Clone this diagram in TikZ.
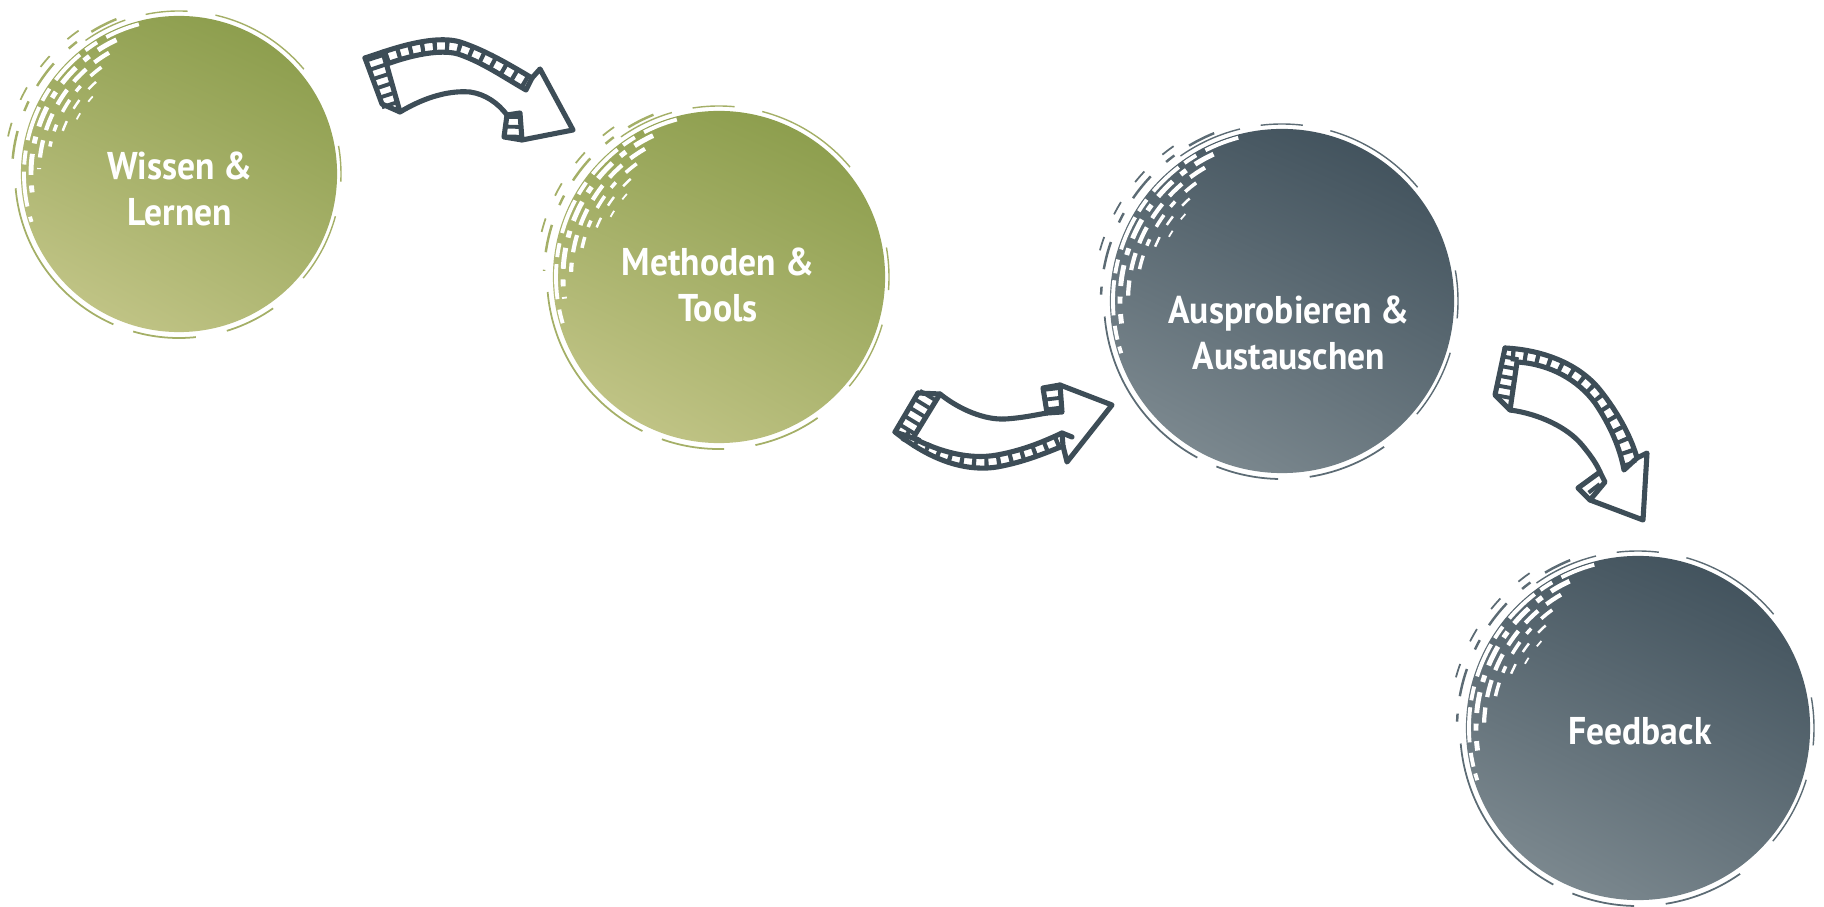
\documentclass[tikz,border=0pt]{standalone}
\usepackage{fontspec}
\setmainfont{PT Sans}[FakeStretch=0.92]
\usetikzlibrary{shadings}
\definecolor{arrowc}{HTML}{3D4D57}
\definecolor{gdark}{HTML}{869946}
\definecolor{glight}{HTML}{C9CA8F}
\colorlet{gul}{gdark!72!glight}
\colorlet{glr}{gdark!38!glight}
\colorlet{gmid}{gdark!55!glight}
\definecolor{sdark}{HTML}{3B4C57}
\definecolor{slight}{HTML}{859197}
\colorlet{sul}{sdark!72!slight}
\colorlet{slr}{sdark!38!slight}
\colorlet{smid}{sdark!55!slight}
\tikzset{
  arrowline/.style={draw=arrowc, line width=1.45pt, line join=round, line cap=round},
  hatchstrip/.style={draw=arrowc, line width=#1, dash pattern=on 1.2pt off 2.3pt},
  hatchband/.style={draw=arrowc, line width=#1, dash pattern=on 1.1pt off 1.7pt},
  disctext/.style={text=white, font=\fontsize{11}{12.9}\selectfont\bfseries, align=center, inner sep=0pt},
  greendisc/.style={circle, inner sep=0pt, shade, upper right=gdark, lower left=glight, upper left=gul, lower right=glr},
  slatedisc/.style={circle, inner sep=0pt, shade, upper right=sdark, lower left=slight, upper left=sul, lower right=slr},
}
% brush effects: #1 node, #2 radius (px), #3 colour
\newcommand\brushfx[3]{%
  \begin{scope}[shift={(#1)}]
    % thin outer ring fragments
    \draw[#3, line width=0.5pt, dash pattern=on 50pt off 6pt on 18pt off 9pt]
      ({-185}:{#2+6}) arc[start angle=-185, end angle=-305, radius={#2+6}];
    \draw[#3, line width=0.4pt, dash pattern=on 30pt off 8pt on 12pt off 6pt]
      ({-40}:{#2+5}) arc[start angle=-40, end angle=-125, radius={#2+5}];
    \draw[#3, line width=0.4pt, dash pattern=on 20pt off 10pt]
      ({-320}:{#2+4}) arc[start angle=-320, end angle=-370, radius={#2+4}];
    \draw[#3, line width=0.7pt, dash pattern=on 8pt off 5pt on 3pt off 6pt]
      ({-112}:{#2+9}) arc[start angle=-112, end angle=-178, radius={#2+9}];
    \draw[#3, line width=0.5pt, dash pattern=on 4pt off 7pt]
      ({-125}:{#2+17}) arc[start angle=-125, end angle=-168, radius={#2+17}];
    % white streaks in the upper left
    \draw[white, line width=1.1pt, dash pattern=on 10pt off 3pt on 4pt off 2pt]
      ({-105}:{#2-3}) arc[start angle=-105, end angle=-198, radius={#2-3}];
    \draw[white, line width=1.4pt, dash pattern=on 6pt off 3pt on 2pt off 3pt]
      ({-115}:{#2-10}) arc[start angle=-115, end angle=-188, radius={#2-10}];
    \draw[white, line width=1.2pt, dash pattern=on 5pt off 3pt]
      ({-120}:{#2-18}) arc[start angle=-120, end angle=-178, radius={#2-18}];
    \draw[white, line width=1pt, dash pattern=on 4pt off 4pt on 2pt off 3pt]
      ({-126}:{#2-26}) arc[start angle=-126, end angle=-168, radius={#2-26}];
    \draw[white, line width=0.7pt, dash pattern=on 3pt off 4pt]
      ({-132}:{#2-34}) arc[start angle=-132, end angle=-160, radius={#2-34}];
    \draw[white, line width=0.5pt, dash pattern=on 2pt off 4pt]
      ({-138}:{#2-42}) arc[start angle=-138, end angle=-153, radius={#2-42}];
  \end{scope}}
\begin{document}
\begin{tikzpicture}[x=0.01cm,y=-0.01cm]
\useasboundingbox (0,0) rectangle (1824,907);

% ---------- discs ----------
\node[greendisc, minimum size=3.16cm] (c1) at (179,174) {};
\node[greendisc, minimum size=3.32cm] (c2) at (719,277) {};
\node[slatedisc, minimum size=3.44cm] (c3) at (1282,301) {};
\node[slatedisc, minimum size=3.44cm] (c4) at (1638,728) {};
\brushfx{c1}{158}{gmid}
\brushfx{c2}{166}{gmid}
\brushfx{c3}{172}{smid}
\brushfx{c4}{172}{smid}

\node[disctext] (t1) at (180,189) {Wissen \&\\Lernen};
\node[disctext] (t2) at (718,285) {Methoden \&\\Tools};
\node[disctext] (t3) at (1289,333) {Ausprobieren \&\\Austauschen};
\node[disctext] (t4) at (1640,731) {Feedback};

% ---------- arrow 1 ----------
\draw[hatchband=4.8pt] (374,56) -- (391,108);
\draw[hatchstrip=3.4pt] (385,58) .. controls (411,49) and (440,42.5) .. (459,48)
      .. controls (483.5,56) and (507.5,71.5) .. (529,84);
\draw[hatchband=4.2pt] (513.5,115) -- (513,139);
\draw[arrowline] (365,58) -- (383,52) .. controls (410,43) and (440,36) .. (460,42)
      .. controls (485,50) and (510,65) .. (532,78) -- (540,69) -- (573,130) -- (522,140);
\draw[arrowline] (387,64) .. controls (412,55) and (440,49) .. (458,54)
      .. controls (482,62) and (505,78) .. (526,90) -- (532,78);
\draw[arrowline] (365,58) -- (382,104) -- (400,112) -- (383,52);
\draw[arrowline] (400,112) .. controls (420,100) and (445,90) .. (470,92)
      .. controls (485,94) and (498,103) .. (507,115);
\draw[arrowline] (507,115) -- (520,113) -- (522,140) -- (504,137) -- cycle;

% ---------- arrow 2 ----------
\draw[hatchband=5.4pt] (929,394) -- (904,435);
\draw[hatchstrip=3.4pt] (904,435) .. controls (935,456) and (967.5,466) .. (997,461)
      .. controls (1025,456) and (1047.5,446) .. (1062.5,439.5);
\draw[hatchband=4.4pt] (1051.5,387) -- (1054.5,412.5);
\draw[arrowline] (918,393) -- (940,394) .. controls (960,410) and (985,420) .. (1005,419)
      .. controls (1022,418) and (1035,415) .. (1047,413);
\draw[arrowline] (1047,413) -- (1043,388) -- (1060,385) -- (1062,412) -- cycle;
\draw[arrowline] (1060,385) -- (1112,405) -- (1067,462) -- (1063,446);
\draw[arrowline] (918,393) -- (895,432) -- (913,438) -- (940,394);
\draw[arrowline] (895,432) .. controls (930,460) and (965,472) .. (997,467)
      .. controls (1025,462) and (1048,452) .. (1063,446) -- (1062,433)
      .. controls (1047,440) and (1025,450) .. (997,455) .. controls (970,460) and (940,452) .. (913,438);
\draw[arrowline] (1062,433) -- (1072,437);

% ---------- arrow 3 ----------
\draw[hatchband=4.6pt] (1511,356) -- (1502.5,402.5);
\draw[hatchstrip=3.6pt] (1511,355) .. controls (1547.5,357) and (1579,372.5) .. (1597.5,396.5)
      .. controls (1615,420) and (1626,444) .. (1630.5,464);
\draw[hatchband=4pt] (1587,479) -- (1597,492);
\draw[arrowline] (1505,348) .. controls (1545,350) and (1580,365) .. (1600,390)
      .. controls (1620,415) and (1632,440) .. (1637,458) -- (1647,453) -- (1643,520) -- (1590,500);
\draw[arrowline] (1517,362) .. controls (1550,364) and (1578,380) .. (1595,403)
      .. controls (1610,425) and (1620,448) .. (1624,470) -- (1637,458);
\draw[arrowline] (1505,348) -- (1495,395) -- (1510,410) -- (1517,362);
\draw[arrowline] (1510,410) .. controls (1540,414) and (1568,428) .. (1582,445)
      .. controls (1592,457) and (1597,465) .. (1600,472);
\draw[arrowline] (1600,472) -- (1605,482) -- (1590,500) -- (1578,488) -- cycle;
\end{tikzpicture}
\end{document}
